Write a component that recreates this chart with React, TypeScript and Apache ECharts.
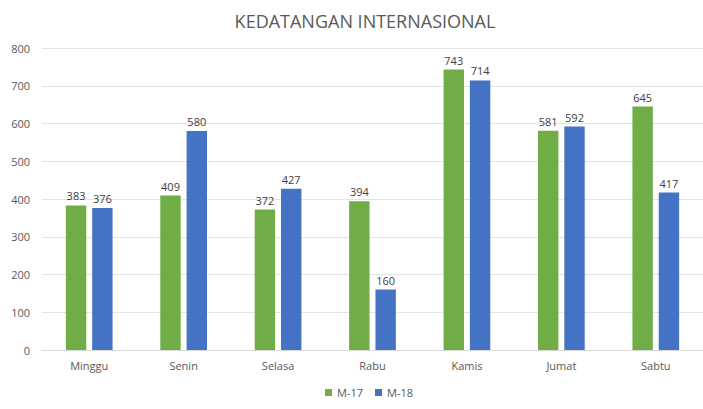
import React, { useEffect, useRef } from "react";
import * as echarts from "echarts";

const categories = ["Minggu", "Senin", "Selasa", "Rabu", "Kamis", "Jumat", "Sabtu"];
const m17 = [383, 409, 372, 394, 743, 581, 645];
const m18 = [376, 580, 427, 160, 714, 592, 417];
const seriesNames = ["M-17", "M-18"];

const FONT = "'Open Sans', 'Noto Sans', sans-serif";

export default function App() {
  const ref = useRef<HTMLDivElement>(null);
  useEffect(() => {
    if (!ref.current) return;
    const chart = echarts.init(ref.current, undefined, { renderer: "svg" });
    const label = {
      show: true,
      position: "top",
      distance: 4,
      color: "#404040",
      fontSize: 11,
      fontFamily: FONT,
    };
    chart.setOption({
      animation: false,
      backgroundColor: "#ffffff",
      title: {
        text: "KEDATANGAN INTERNASIONAL",
        left: 360,
        textAlign: "center",
        top: 7,
        textStyle: { color: "#595959", fontSize: 18, fontWeight: "normal", fontFamily: FONT },
      },
      legend: {
        bottom: 6,
        left: 320,
        itemWidth: 7,
        itemHeight: 7,
        itemGap: 12,
        icon: "rect",
        textStyle: { color: "#595959", fontSize: 11, fontFamily: FONT },
        data: seriesNames,
      },
      grid: { left: 42, top: 48, width: 665, height: 302 },
      xAxis: {
        type: "category",
        data: categories,
        axisLine: { lineStyle: { color: "#d9d9d9" } },
        axisTick: { show: false },
        axisLabel: { color: "#595959", fontSize: 11, fontFamily: FONT, margin: 10 },
      },
      yAxis: {
        type: "value",
        min: 0,
        max: 800,
        interval: 100,
        axisLine: { show: false },
        axisTick: { show: false },
        splitLine: { lineStyle: { color: "#e3e3e3" } },
        axisLabel: { color: "#595959", fontSize: 11, fontFamily: FONT, margin: 12 },
      },
      series: [
        {
          name: seriesNames[0],
          type: "bar",
          data: m17,
          barWidth: "21.6%",
          barGap: "29%",
          itemStyle: { color: "#70ad47" },
          label,
        },
        {
          name: seriesNames[1],
          type: "bar",
          data: m18,
          barWidth: "21.6%",
          itemStyle: { color: "#4472c4" },
          label,
        },
      ],
    });
    return () => chart.dispose();
  }, []);
  return <div ref={ref} style={{ width: 703, height: 409, position: "absolute", left: 0, top: 0 }} />;
}
